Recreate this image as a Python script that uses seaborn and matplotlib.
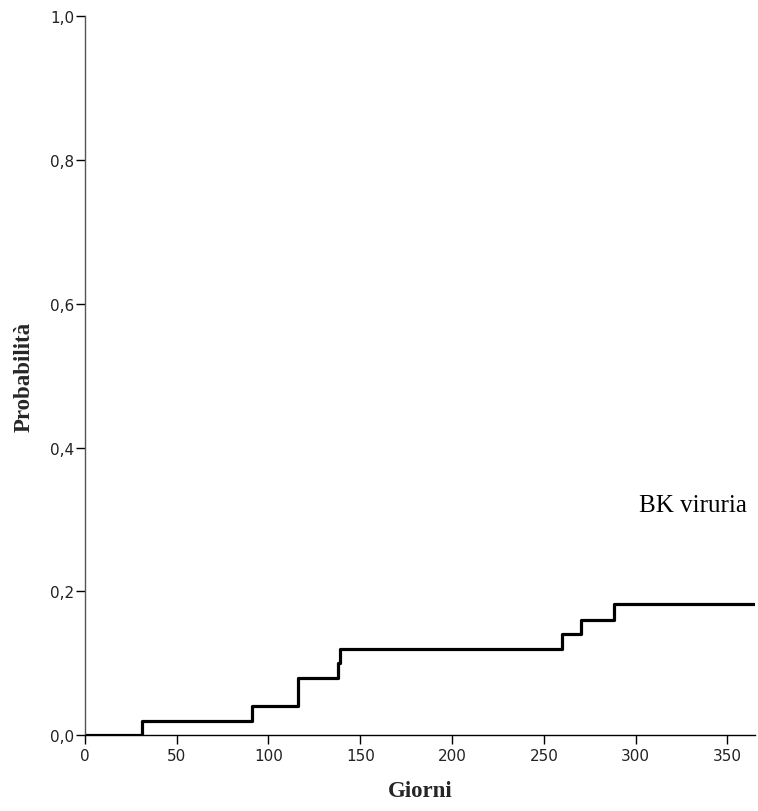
import matplotlib
matplotlib.use("Agg")
import matplotlib.pyplot as plt
import seaborn as sns
import pandas as pd
from matplotlib.ticker import FuncFormatter

giorni = [0, 31, 91, 116, 138, 139, 260, 270, 288, 365]
probabilita = [0.0, 0.02, 0.04, 0.08, 0.10, 0.12, 0.14, 0.16, 0.182, 0.182]
x_ticks = [0, 50, 100, 150, 200, 250, 300, 350]
y_ticks = [0.0, 0.2, 0.4, 0.6, 0.8, 1.0]
label_serie = "BK viruria"

sns.set_style("white")
plt.rcParams['font.family'] = ['DejaVu Sans']

df = pd.DataFrame({"Giorni": giorni, "Probabilità": probabilita})

fig = plt.figure(figsize=(7.58, 8.12), dpi=100)
ax = fig.add_axes([0.112, 0.0936, 0.884, 0.885])

sns.lineplot(data=df, x="Giorni", y="Probabilità", drawstyle="steps-post",
             color="black", linewidth=2.3, ax=ax)

ax.set_xlim(0, 365)
ax.set_ylim(0, 1.0)
ax.set_xticks(x_ticks)
ax.set_yticks(y_ticks)
ax.xaxis.set_major_formatter(FuncFormatter(lambda v, p: f"{int(v)}"))
ax.yaxis.set_major_formatter(FuncFormatter(lambda v, p: f"{v:.1f}".replace(".", ",")))

for s in ["top", "right"]:
    ax.spines[s].set_visible(False)
ax.spines["left"].set_color("#555555")
ax.spines["left"].set_linewidth(1.0)
ax.spines["bottom"].set_color("black")
ax.spines["bottom"].set_linewidth(1.0)
ax.tick_params(axis="both", direction="out", length=6.5, width=1, color="black",
               labelsize=11, labelcolor="#222222", bottom=True, left=True)
ax.tick_params(axis="x", pad=3)
ax.tick_params(axis="y", pad=1)

ax.set_xlabel("Giorni", fontfamily="Liberation Serif", fontweight="bold", fontsize=16.5, labelpad=12)
ax.set_ylabel("Probabilità", fontfamily="Liberation Serif", fontweight="bold", fontsize=16.5, labelpad=11)

ax.text(302, 0.312, label_serie, fontfamily="Liberation Serif", fontsize=18,
        ha="left", va="baseline", color="black")

fig.savefig("out.png", dpi=100)
